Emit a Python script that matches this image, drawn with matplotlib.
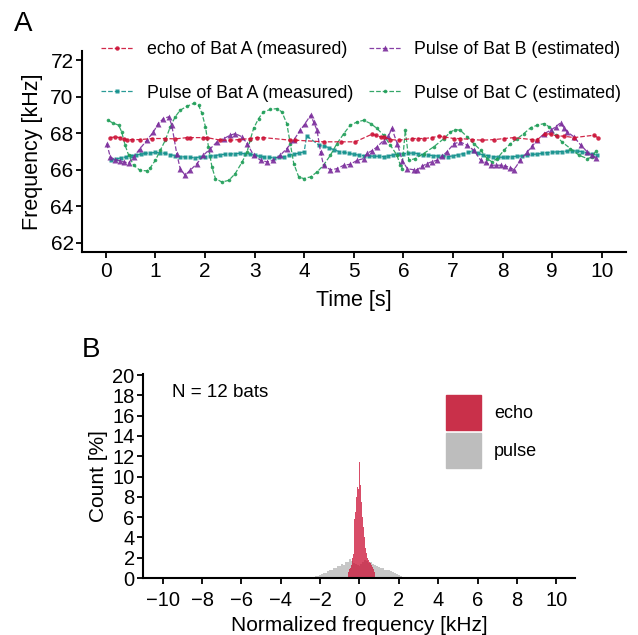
import numpy as np
import matplotlib.pyplot as plt
from matplotlib.patches import Patch

plt.rcParams['font.family'] = ['Liberation Sans', 'DejaVu Sans']

# ---- panel A: frequency traces ----
echo_t = [0.09, 0.19, 0.29, 0.36, 0.42, 0.52, 0.69, 0.93, 1.2, 1.4, 1.64, 1.70, 1.97, 2.04,
          2.31, 2.51, 2.68, 2.91, 3.05, 3.18, 3.72, 3.82, 4.39, 4.75, 5.03, 5.37, 5.44, 5.54,
          5.6, 5.74, 5.91, 6.18, 6.3, 6.41, 6.58, 6.72, 6.82, 7.02, 7.15, 7.39, 7.59, 7.83,
          8.03, 8.23, 8.6, 8.7, 8.86, 8.97, 9.1, 9.24, 9.44, 9.84, 9.92]
echo_f = [67.76, 67.8, 67.76, 67.71, 67.65, 67.65, 67.65, 67.71, 67.71, 67.69, 67.76, 67.76,
          67.76, 67.76, 67.62, 67.62, 67.65, 67.71, 67.76, 67.76, 67.62, 67.62, 67.53, 67.53,
          67.53, 67.95, 67.89, 67.8, 67.8, 67.65, 67.62, 67.71, 67.71, 67.71, 67.76, 67.85,
          67.8, 67.71, 67.71, 67.65, 67.62, 67.65, 67.71, 67.76, 67.65, 67.65, 67.98, 67.95,
          67.85, 67.84, 67.76, 67.89, 67.76]

pulseA_t = [0.1, 0.2, 0.3, 0.4, 0.5, 0.6, 0.7, 0.8, 0.9, 1.0, 1.1, 1.2, 1.3, 1.4, 1.5, 1.6,
            1.7, 1.8, 1.9, 2.0, 2.1, 2.2, 2.3, 2.4, 2.5, 2.6, 2.7, 2.8, 2.9, 3.0, 3.1, 3.2,
            3.3, 3.4, 3.5, 3.6, 3.7, 3.8, 3.9, 4.0, 4.05, 4.3, 4.4, 4.5, 4.6, 4.7, 4.8, 4.9,
            5.0, 5.1, 5.2, 5.3, 5.4, 5.5, 5.6, 5.7, 5.8, 5.9, 6.0, 6.1, 6.2, 6.3, 6.4, 6.5,
            6.6, 6.7, 6.8, 6.9, 7.0, 7.1, 7.2, 7.3, 7.4, 7.5, 7.6, 7.7, 7.8, 7.9, 8.0, 8.1,
            8.2, 8.3, 8.4, 8.5, 8.6, 8.7, 8.8, 8.9, 9.0, 9.1, 9.2, 9.3, 9.4, 9.5, 9.6, 9.7,
            9.8, 9.9]
pulseA_f = [66.52, 66.58, 66.65, 66.7, 66.78, 66.8, 66.85, 66.9, 66.92, 66.95, 66.92, 66.9,
            66.82, 66.78, 66.72, 66.7, 66.68, 66.66, 66.7, 66.72, 66.74, 66.78, 66.82, 66.85,
            66.86, 66.88, 66.9, 66.88, 66.85, 66.8, 66.74, 66.7, 66.68, 66.66, 66.68, 66.72,
            66.8, 66.85, 66.92, 66.98, 67.85, 67.35, 67.3, 67.2, 67.1, 67.0, 66.95, 66.9,
            66.85, 66.8, 66.78, 66.76, 66.74, 66.74, 66.72, 66.76, 66.82, 66.85, 66.88, 66.9,
            66.92, 66.88, 66.82, 66.8, 66.78, 66.75, 66.74, 66.72, 66.76, 66.82, 66.88, 66.95,
            67.02, 66.9, 66.82, 66.78, 66.72, 66.7, 66.68, 66.7, 66.72, 66.74, 66.76, 66.8,
            66.84, 66.86, 66.9, 66.94, 66.96, 66.98, 67.0, 67.02, 67.04, 67.02, 67.0, 66.92,
            66.86, 66.82]

pulseB_t = [0.02, 0.09, 0.19, 0.28, 0.36, 0.46, 0.56, 0.69, 0.83, 0.96, 1.06, 1.16, 1.27,
            1.33, 1.43, 1.5, 1.6, 1.7, 1.84, 1.97, 2.11, 2.24, 2.38, 2.51, 2.61, 2.75, 2.85,
            2.98, 3.12, 3.25, 3.38, 3.52, 3.65, 3.79, 3.92, 4.02, 4.13, 4.19, 4.26, 4.33,
            4.39, 4.53, 4.66, 4.8, 4.93, 5.07, 5.2, 5.27, 5.37, 5.47, 5.6, 5.7, 5.77, 5.88,
            5.98, 6.08, 6.21, 6.28, 6.38, 6.48, 6.58, 6.68, 6.78, 6.88, 7.02, 7.15, 7.29,
            7.42, 7.56, 7.66, 7.76, 7.86, 7.96, 8.06, 8.16, 8.23, 8.36, 8.5, 8.6, 8.7, 8.84,
            8.97, 9.07, 9.17, 9.24, 9.31, 9.44, 9.58, 9.71, 9.8, 9.88]
pulseB_f = [67.43, 66.7, 66.56, 66.5, 66.43, 66.37, 66.7, 67.16, 67.62, 68.07, 68.53, 68.8,
            68.9, 68.44, 66.89, 66.06, 65.7, 65.97, 66.34, 66.8, 67.16, 67.52, 67.71, 67.89,
            67.98, 67.8, 67.43, 66.8, 66.52, 66.43, 66.52, 66.8, 67.16, 67.62, 68.16, 68.53,
            68.99, 68.62, 68.16, 66.98, 66.25, 66.0, 66.06, 66.25, 66.3, 66.52, 66.61, 66.9,
            67.05, 67.25, 67.6, 67.85, 68.26, 67.4, 66.5, 66.06, 66.0, 66.0, 66.2, 66.34,
            66.45, 66.52, 66.75, 66.98, 67.43, 67.52, 67.34, 67.07, 66.52, 66.4, 66.25, 66.25,
            66.25, 66.2, 66.12, 66.0, 66.52, 66.98, 67.3, 67.62, 67.98, 68.16, 68.35, 68.57,
            68.3, 68.07, 67.8, 67.34, 66.98, 66.8, 66.67]

pulseC_t = [0.05, 0.15, 0.26, 0.32, 0.39, 0.46, 0.56, 0.69, 0.83, 0.9, 1.0, 1.1, 1.2, 1.3,
            1.4, 1.5, 1.64, 1.77, 1.87, 1.94, 2.01, 2.07, 2.14, 2.21, 2.34, 2.48, 2.61, 2.75,
            2.85, 2.91, 2.98, 3.08, 3.18, 3.32, 3.45, 3.55, 3.65, 3.72, 3.79, 3.89, 3.99,
            4.13, 4.26, 4.39, 4.53, 4.66, 4.8, 4.93, 5.07, 5.2, 5.34, 5.47, 5.6, 5.74, 5.87,
            5.94, 5.97, 6.04, 6.11, 6.24, 6.41, 6.61, 6.82, 6.95, 7.05, 7.15, 7.29, 7.42,
            7.56, 7.69, 7.79, 7.89, 8.03, 8.16, 8.3, 8.43, 8.57, 8.7, 8.84, 8.94, 9.07, 9.2,
            9.37, 9.54, 9.71, 9.81, 9.88]
pulseC_f = [68.7, 68.55, 68.44, 68.07, 67.34, 66.8, 66.25, 65.97, 65.94, 66.12, 66.52, 67.07,
            67.62, 68.35, 68.9, 69.26, 69.48, 69.63, 69.53, 69.08, 68.35, 67.25, 66.16, 65.52,
            65.33, 65.42, 65.79, 66.43, 66.98, 67.62, 68.26, 68.8, 69.17, 69.3, 69.35, 69.17,
            68.53, 67.43, 66.34, 65.61, 65.52, 65.61, 65.88, 66.25, 66.8, 67.43, 67.98, 68.44,
            68.62, 68.71, 68.53, 68.26, 67.89, 67.34, 66.8, 66.25, 66.06, 68.16, 66.52, 66.61,
            66.89, 67.25, 67.71, 68.07, 68.2, 68.16, 67.8, 67.43, 67.07, 66.61, 66.43, 66.61,
            67.07, 67.43, 67.71, 67.98, 68.31, 68.44, 68.53, 68.35, 67.89, 67.52, 67.16, 66.8,
            66.61, 66.7, 67.03]

# ---- panel B: histograms (percent per bin) ----
echo_bins = [-0.55, -0.50, -0.45, -0.40, -0.35, -0.30, -0.25, -0.20, -0.15, -0.10, -0.05,
             0.00, 0.05, 0.10, 0.15, 0.20, 0.25, 0.30, 0.35, 0.40, 0.45, 0.50, 0.55, 0.60,
             0.65, 0.70, 0.75]
echo_pct = [0.6, 0.9, 1.0, 1.3, 2.0, 2.4, 5.8, 6.5, 8.0, 9.0, 8.8, 11.4, 9.2, 7.5, 6.0, 5.0,
            4.0, 3.0, 2.5, 2.0, 1.8, 1.6, 1.5, 1.3, 1.1, 0.9, 0.6]
pulse_bins = [-2.3, -2.2, -2.1, -2.0, -1.9, -1.8, -1.7, -1.6, -1.5, -1.4, -1.3, -1.2, -1.1,
              -1.0, -0.9, -0.8, -0.7, -0.6, -0.5, -0.4, -0.3, -0.2, -0.1, 0.0, 0.1, 0.2,
              0.3, 0.4, 0.5, 0.6, 0.7, 0.8, 0.9, 1.0, 1.1, 1.2, 1.3, 1.4, 1.5, 1.6, 1.7,
              1.8, 1.9, 2.0, 2.1, 2.2]
pulse_pct = [0.05, 0.15, 0.2, 0.3, 0.35, 0.5, 0.45, 0.65, 0.75, 0.8, 1.0, 0.95, 1.15, 1.2,
             1.35, 1.3, 1.55, 1.6, 1.9, 1.7, 1.5, 1.4, 1.3, 1.2, 1.35, 1.55, 1.8, 1.7, 1.5,
             1.55, 1.35, 1.3, 1.15, 1.1, 1.0, 0.95, 0.8, 0.8, 0.75, 0.65, 0.55, 0.5, 0.35,
             0.3, 0.15, 0.05]

red = '#cc1136'
teal = '#12908c'
purple = '#7a2b9b'
green = '#1f9e58'

fig = plt.figure(figsize=(6.38, 6.35), dpi=100)

ax1 = fig.add_axes([82/638, 1-252/635, 544/638, 201/635])
ln_teal, = ax1.plot(pulseA_t, pulseA_f, ls='--', lw=0.9, color=teal, marker='s', ms=3.4,
                    mec='none', alpha=0.9)
ln_green, = ax1.plot(pulseC_t, pulseC_f, ls='--', lw=0.9, color=green, marker='o', ms=2.6,
                     mec='none', alpha=0.9)
ln_purple, = ax1.plot(pulseB_t, pulseB_f, ls='--', lw=0.9, color=purple, marker='^', ms=4.2,
                      mec='none', alpha=0.9)
ln_red, = ax1.plot(echo_t, echo_f, ls='--', lw=0.9, color=red, marker='o', ms=3.2,
                   mec='none', alpha=0.9)
ax1.set_xlim(-0.48, 10.49)
ax1.set_ylim(61.5, 72.5)
ax1.set_xticks(range(0, 11))
ax1.set_yticks(range(62, 73, 2))
ax1.set_xlabel('Time [s]', fontsize=15.5, labelpad=6)
ax1.set_ylabel('Frequency [kHz]', fontsize=15.5, labelpad=5)
ax1.legend([ln_red, ln_teal, ln_purple, ln_green],
           ['echo of Bat A (measured)', 'Pulse of Bat A (measured)',
            'Pulse of Bat B (estimated)', 'Pulse of Bat C (estimated)'],
           ncol=2, frameon=False, fontsize=12.8, loc='upper left',
           bbox_to_anchor=(101/638, 1-41/635), bbox_transform=fig.transFigure,
           borderpad=0, borderaxespad=0, handlelength=1.8, handletextpad=0.76,
           columnspacing=0.88, labelspacing=1.5)

ax2 = fig.add_axes([143/638, 1-578/635, 432/638, 204/635])
ax2.bar(pulse_bins, pulse_pct, width=0.1, color='#c4c4c4', edgecolor='none', alpha=0.95)
ax2.bar(echo_bins, echo_pct, width=0.05, color=red, edgecolor='none', alpha=0.75)
ax2.set_xlim(-11, 10.95)
ax2.set_ylim(0, 20.1)
ax2.set_xticks(range(-10, 11, 2))
ax2.set_yticks(range(0, 21, 2))
ax2.set_xlabel('Normalized frequency [kHz]', fontsize=15, labelpad=5)
ax2.set_ylabel('Count [%]', fontsize=15, labelpad=3)
ax2.text(0.067, 0.91, 'N = 12 bats', transform=ax2.transAxes, fontsize=13.5,
         va='center', ha='left')
ax2.legend(handles=[Patch(color='#c9304a', label='echo'), Patch(color='#bdbdbd', label='pulse')],
           frameon=False, fontsize=13, loc='upper left',
           bbox_to_anchor=(446/638, 1-395/635), bbox_transform=fig.transFigure,
           borderpad=0, borderaxespad=0, handlelength=1.95, handleheight=2.6,
           handletextpad=0.7, labelspacing=0.18)

for ax, size in ((ax1, 15), (ax2, 14.5)):
    for s in ('top', 'right'):
        ax.spines[s].set_visible(False)
    for s in ('left', 'bottom'):
        ax.spines[s].set_linewidth(1.5)
    ax.tick_params(direction='out', length=4, width=1.3, labelsize=size, pad=2)
ax1.tick_params(axis='x', pad=3.5)
ax2.tick_params(axis='x', pad=5)

fig.text(14/638, 1-31/635, 'A', fontsize=20)
fig.text(82/638, 1-357/635, 'B', fontsize=20)

fig.savefig('out.png', dpi=100)
